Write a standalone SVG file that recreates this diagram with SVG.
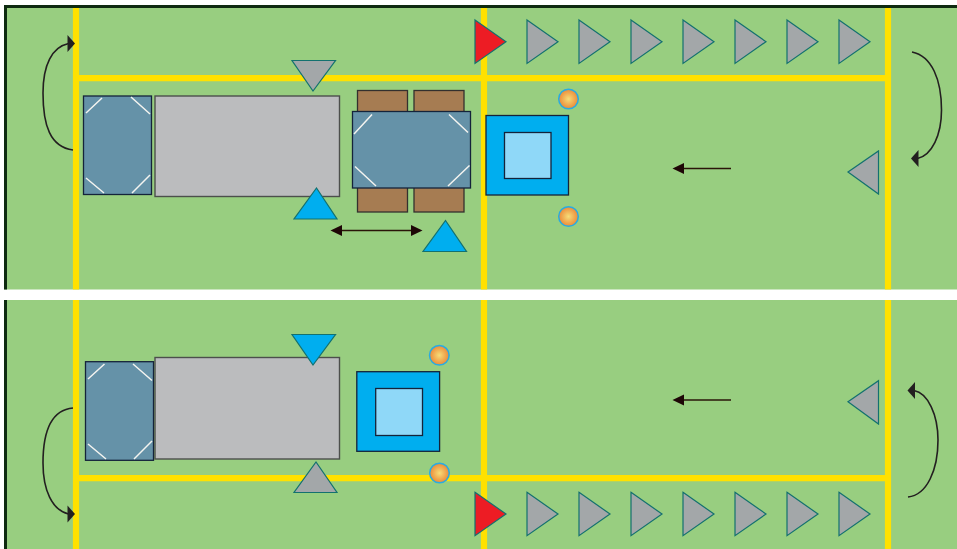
<svg xmlns="http://www.w3.org/2000/svg" width="957" height="549" viewBox="0 0 957 549">
<style>
.panel{fill:#98ce80}
.edge{fill:#0e2a10}
.lane{stroke:#ffe100;stroke-width:6.2;fill:none}
.cab{fill:#6592a8;stroke:#14233a;stroke-width:1.3}
.glass{stroke:#f4f4f0;stroke-width:1.5;fill:none}
.body{fill:#bbbcbe;stroke:#4c4f4c;stroke-width:1.4}
.wheel{fill:#a67c52;stroke:#33302e;stroke-width:1.3}
.outer{fill:#00aeef;stroke:#14233a;stroke-width:1.3}
.inner{fill:#8fd8f8;stroke:#14233a;stroke-width:1.3}
.grey{fill:#a3a7a9;stroke:#13716f;stroke-width:1.2;stroke-linejoin:miter}
.blue{fill:#00aeef;stroke:#13716f;stroke-width:1.2}
.red{fill:#ed1c24;stroke:#13716f;stroke-width:1.2}
.lamp{fill:url(#lampGrad);stroke:#29abe2;stroke-width:1.5}
.curve{fill:none;stroke:#231f20;stroke-width:1.6}
.straight{fill:none;stroke:#2a1408;stroke-width:1.3}
</style>
<defs>
<radialGradient id="lampGrad"><stop offset="0" stop-color="#f6dc78"/><stop offset="1" stop-color="#ec8a38"/></radialGradient>
<marker id="curveHeadRight" markerUnits="userSpaceOnUse" markerWidth="12" markerHeight="20" viewBox="-1 -10 10 20" refX="1" refY="0" orient="0"><path d="M0,-8.5L7.5,0L0,8.5z" fill="#231f20"/></marker>
<marker id="curveHeadLeft" markerUnits="userSpaceOnUse" markerWidth="12" markerHeight="20" viewBox="-1 -10 10 20" refX="1" refY="0" orient="180"><path d="M0,-8.5L7.5,0L0,8.5z" fill="#231f20"/></marker>
<marker id="lineHead" markerUnits="userSpaceOnUse" markerWidth="14" markerHeight="14" viewBox="-1 -7 14 14" refX="1" refY="0" orient="auto"><path d="M0,-5.5L11.5,0L0,5.5z" fill="#1e0606"/></marker>
<marker id="lineHeadStart" markerUnits="userSpaceOnUse" markerWidth="14" markerHeight="14" viewBox="-13 -7 14 14" refX="-1" refY="0" orient="auto"><path d="M0,-5.5L-11.5,0L0,5.5z" fill="#1e0606"/></marker>
<polygon id="tri" points="0,-21.7 31,0 0,21.7"/>
</defs>
<g id="ground">
<rect class="panel" x="4" y="5" width="953" height="284.5"/>
<rect class="panel" x="4" y="300" width="953" height="249"/>
<rect class="edge" x="4" y="5" width="953" height="3"/>
<rect class="edge" x="4" y="5" width="3" height="284.5"/>
<rect class="edge" x="4" y="300" width="3" height="249"/>
</g>
<g id="lanes">
<path class="lane" d="M76,8V289.5M484,8V289.5M888,8V289.5M76,78.1H888"/>
<path class="lane" d="M76,300V549M484,300V549M888,300V549M76,478.1H888"/>
</g>
<g id="top-cab"><rect class="cab" x="83.5" y="96" width="68" height="98.5"/><path class="glass" d="M86,113L102,98M131,97L150,114M86,178L104,193M132,193L150,175"/></g>
<g id="top-body"><rect class="body" x="155" y="96" width="184.5" height="100.5"/></g>
<g id="top-wheels"><rect class="wheel" x="357.5" y="90.5" width="50" height="22"/><rect class="wheel" x="414" y="90.5" width="50" height="22"/><rect class="wheel" x="357.5" y="187" width="50" height="25"/><rect class="wheel" x="414" y="187" width="50" height="25"/></g>
<g id="top-table"><rect class="cab" x="352.5" y="111.5" width="118" height="76.5"/><path class="glass" d="M354,134L372,114.5M449,114.5L468,132.5M355,166.5L376,186M448,186L469.5,165.5"/></g>
<g id="top-square"><rect class="outer" x="486" y="115.5" width="82.5" height="79.5"/><rect class="inner" x="504.5" y="132.5" width="46.5" height="46"/></g>
<g id="top-lamp-1"><circle class="lamp" cx="568.5" cy="99" r="9.8"/></g>
<g id="top-lamp-2"><circle class="lamp" cx="568.5" cy="216.5" r="9.8"/></g>
<g id="top-marker-down"><polygon class="grey" points="292,60.5 335.5,60.5 313,91"/></g>
<g id="top-marker-up-1"><polygon class="blue" points="294,219 337,219 316.5,188"/></g>
<g id="top-marker-up-2"><polygon class="blue" points="423,251.5 466.5,251.5 445.5,220.5"/></g>
<g id="top-marker-left"><polygon class="grey" points="848,172 878.5,151 878.5,194"/></g>
<g id="top-row">
<use href="#tri" class="red" x="475" y="41.7"/>
<use href="#tri" class="grey" x="527" y="41.7"/>
<use href="#tri" class="grey" x="579" y="41.7"/>
<use href="#tri" class="grey" x="631" y="41.7"/>
<use href="#tri" class="grey" x="683" y="41.7"/>
<use href="#tri" class="grey" x="735" y="41.7"/>
<use href="#tri" class="grey" x="787" y="41.7"/>
<use href="#tri" class="grey" x="839" y="41.7"/>
</g>
<g id="bottom-cab"><rect class="cab" x="85.5" y="361.7" width="68" height="98.6"/><path class="glass" d="M88,379L104.5,364M133,364L152,380.5M88,444L106,459M134,459L152,441"/></g>
<g id="bottom-body"><rect class="body" x="155" y="357.5" width="184.5" height="101.5"/></g>
<g id="bottom-square"><rect class="outer" x="356.8" y="371.7" width="82.8" height="79.6"/><rect class="inner" x="375.7" y="388.5" width="46.8" height="47"/></g>
<g id="bottom-lamp-1"><circle class="lamp" cx="439.3" cy="355.3" r="9.8"/></g>
<g id="bottom-lamp-2"><circle class="lamp" cx="439.5" cy="473" r="9.8"/></g>
<g id="bottom-marker-down"><polygon class="blue" points="292,334.5 335.5,334.5 313,365"/></g>
<g id="bottom-marker-up"><polygon class="grey" points="294,492.5 337,492.5 316,462"/></g>
<g id="bottom-marker-left"><polygon class="grey" points="848,401.7 878.5,380.7 878.5,424"/></g>
<g id="bottom-row">
<use href="#tri" class="red" x="475" y="514"/>
<use href="#tri" class="grey" x="527" y="514"/>
<use href="#tri" class="grey" x="579" y="514"/>
<use href="#tri" class="grey" x="631" y="514"/>
<use href="#tri" class="grey" x="683" y="514"/>
<use href="#tri" class="grey" x="735" y="514"/>
<use href="#tri" class="grey" x="787" y="514"/>
<use href="#tri" class="grey" x="839" y="514"/>
</g>
<g id="connectors">
<path class="curve" marker-end="url(#curveHeadRight)" d="M73,150C50,147 43,125 43,93C43,65 52,47 68.5,43.5"/>
<path class="curve" marker-end="url(#curveHeadLeft)" d="M912,52C932,56 941.5,80 941.5,110C941.5,135 932,155 917.5,158.5"/>
<path class="curve" marker-end="url(#curveHeadRight)" d="M73,408C50,410 43,435 43,463C43,490 52,510 68.5,514"/>
<path class="curve" marker-end="url(#curveHeadLeft)" d="M908,497C927,495 938,470 938,440C938,415 928,393 914,390.5"/>
<path class="straight" d="M731,168.5H683" marker-end="url(#lineHead)"/>
<path class="straight" d="M731,400H683" marker-end="url(#lineHead)"/>
<path class="straight" d="M341,230.5H412" marker-start="url(#lineHeadStart)" marker-end="url(#lineHead)"/>
</g>
</svg>
